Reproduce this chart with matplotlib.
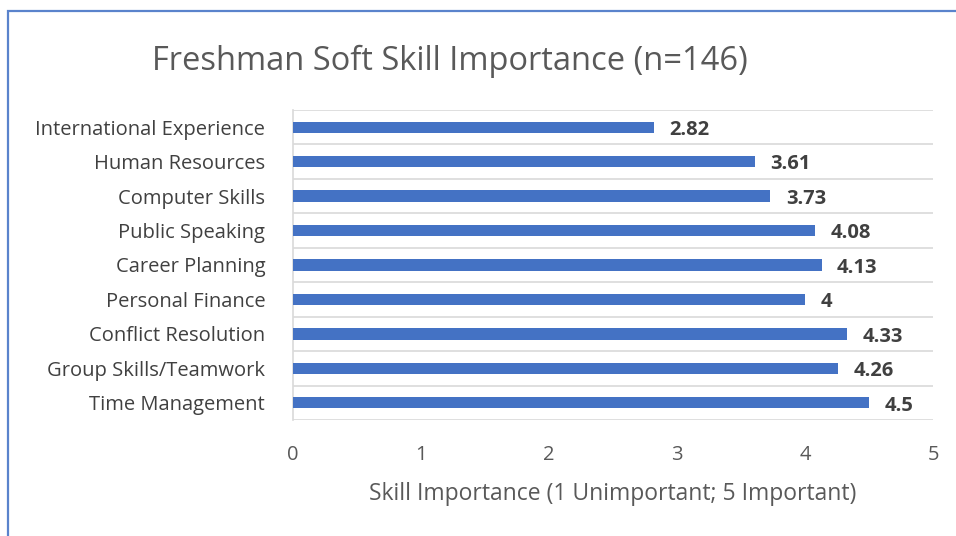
import matplotlib.pyplot as plt
from matplotlib.patches import Rectangle

skills = ['International Experience', 'Human Resources', 'Computer Skills',
          'Public Speaking', 'Career Planning', 'Personal Finance',
          'Conflict Resolution', 'Group Skills/Teamwork', 'Time Management']
scores = [2.82, 3.61, 3.73, 4.08, 4.13, 4, 4.33, 4.26, 4.5]
x_ticks = [0, 1, 2, 3, 4, 5]

plt.rcParams['font.family'] = ['Open Sans', 'DejaVu Sans']

fig = plt.figure(figsize=(9.56, 5.36), dpi=100)
ax = fig.add_axes([0.3065, 0.2164, 0.6695, 0.5784])

# outer chart border (top and left visible)
fig.patches.append(Rectangle((8 / 956, -0.1), 1.2, 1 - 11 / 536 + 0.1,
                             transform=fig.transFigure, fill=False,
                             edgecolor='#5A83CC', linewidth=1.6))

pos = list(range(len(skills)))
ax.barh(pos, scores, height=0.33, color='#4472C4', zorder=3)
ax.set_ylim(len(skills) - 0.5, -0.5)
ax.set_xlim(0, 5)

for p, s in zip(pos, scores):
    label = ('%.2f' % s).rstrip('0').rstrip('.')
    ax.text(s + 0.12, p + 0.08, label, va='center', ha='left',
            fontsize=14.5, fontweight='bold', color='#404040')

ax.set_yticks(pos)
ax.set_yticklabels(skills, fontsize=14.5, color='#404040')
ax.set_xticks(x_ticks)
ax.set_xticklabels([str(t) for t in x_ticks], fontsize=14.5, color='#595959')
ax.tick_params(axis='both', length=0)
ax.tick_params(axis='y', pad=20)
ax.tick_params(axis='x', pad=18)

# gridlines between categories
ax.set_yticks([p - 0.5 for p in pos] + [len(skills) - 0.5], minor=True)
ax.tick_params(axis='y', which='minor', length=0)
ax.grid(axis='y', which='minor', color='#D9D9D9', linewidth=1.2, zorder=0)

for side in ['top', 'right', 'bottom']:
    ax.spines[side].set_visible(False)
ax.spines['left'].set_color('#D9D9D9')
ax.spines['left'].set_linewidth(1.2)

ax.set_xlabel('Skill Importance (1 Unimportant; 5 Important)', fontsize=16.5,
              color='#595959', labelpad=12)
fig.text(0.471, 0.885, 'Freshman Soft Skill Importance (n=146)', ha='center',
         va='center', fontsize=23.5, color='#595959')

fig.savefig('out.png', dpi=100)
